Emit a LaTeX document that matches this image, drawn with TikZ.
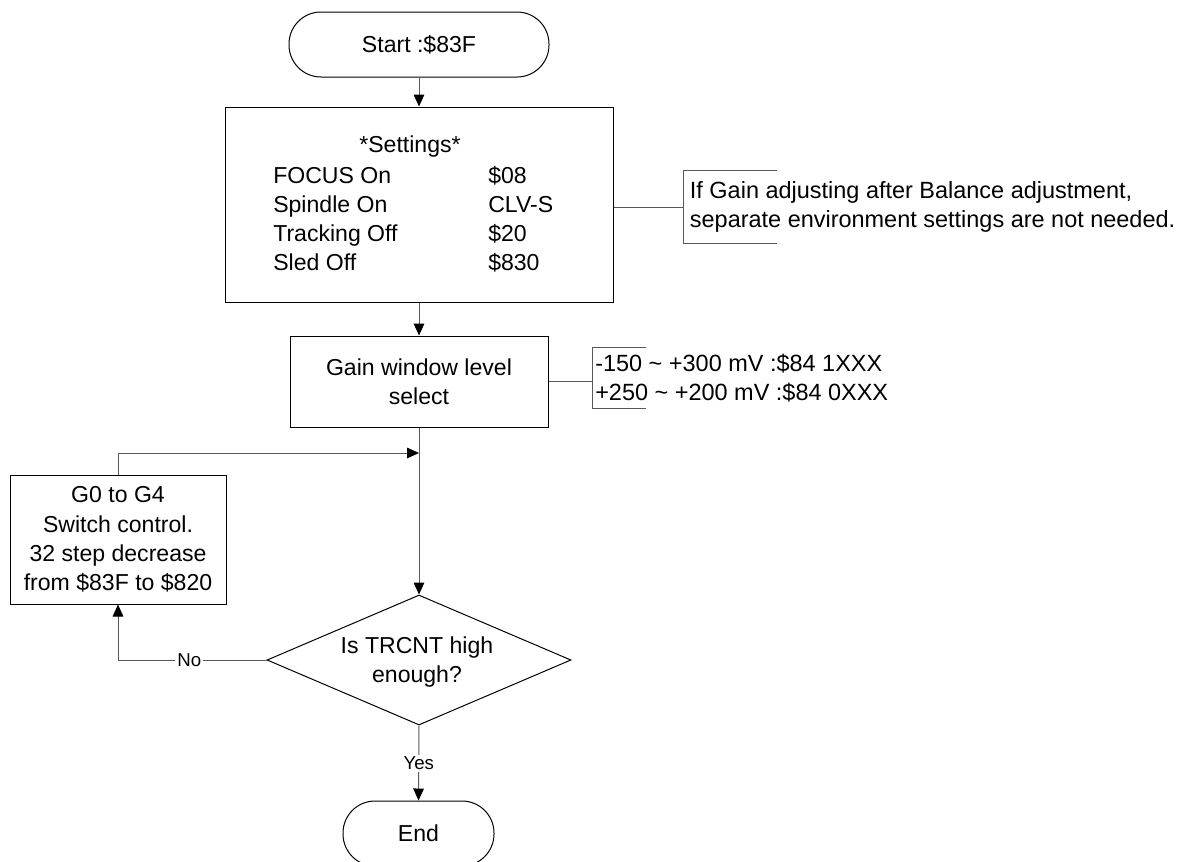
\documentclass[tikz,border=0pt]{standalone}
\usepackage{fontspec}
\setmainfont{Liberation Sans}
\usetikzlibrary{shapes.geometric,arrows.meta}
\begin{document}
\begin{tikzpicture}[x=0.75pt,y=-0.75pt,
  every node/.style={font=\fontsize{17.3pt}{21.9pt}\selectfont, inner sep=0pt},
  box/.style={draw=black, line width=0.75pt, fill=white},
  term/.style={box, rounded corners=24pt},
  conn/.style={draw=black!65, line width=0.75pt},
  arr/.style={conn, -{Triangle[length=9pt,width=8pt,color=black]}},
  lbl/.style={fill=white, inner sep=1.5pt, font=\fontsize{14pt}{17pt}\selectfont},
  note/.style={anchor=west, align=left, inner xsep=3pt, inner ysep=0pt, font=\fontsize{17.6pt}{22.2pt}\selectfont}]
\useasboundingbox (0,0) rectangle (1177,861);

% shapes
\node[term, minimum width=195pt, minimum height=48.75pt] (start) at (419,44.5) {Start :\$83F};
\node[box, minimum width=291pt, minimum height=146.25pt] (settings) at (419,204.5) {};
\node (hdr) at (410,147) {*Settings*};
\node[anchor=west] (tbl) at (273,221) {\begin{tabular}{@{}p{161.25pt}@{}l@{}}
FOCUS On & \$08\\
Spindle On & CLV-S\\
Tracking Off & \$20\\
Sled Off & \$830
\end{tabular}};
\node[box, minimum width=193.5pt, minimum height=68.25pt, align=center] (gain) at (419,381.5) {Gain window level\\select};
\node[box, minimum width=162pt, minimum height=96.75pt, align=center] (loop) at (118,539.5) {G0 to G4\\Switch control.\\32 step decrease\\from \$83F to \$820};
\node[box, diamond, minimum width=228pt, minimum height=97.5pt] (dec) at (419,660) {};
\node[align=center] (dect) at (417,662) {Is TRCNT high\\enough?};
\node[term, minimum width=113.25pt, minimum height=48.75pt] (end) at (418.5,833.5) {End};

% annotations
\node[note, inner xsep=5pt, minimum height=54pt] (ann1) at (683,207) {If Gain adjusting after Balance adjustment,\\separate environment settings are not needed.};
\draw[conn] ([xshift=70.5pt]ann1.north west) -- (ann1.north west) -- (ann1.south west) -- ([xshift=70.5pt]ann1.south west);
\draw[conn] (ann1.west -| settings.east) -- (ann1.west);

\node[note, inner xsep=2.25pt, minimum height=45pt] (ann2) at (592,378) {-150 \textasciitilde{} +300 mV :\$84 1XXX\\+250 \textasciitilde{} +200 mV :\$84 0XXX};
\draw[conn] ([xshift=40.5pt]ann2.north west) -- (ann2.north west) -- (ann2.south west) -- ([xshift=40.5pt]ann2.south west);
\draw[conn] (gain.east) -- (gain.east -| ann2.west);

% connectors
\coordinate (join) at (419,453);
\draw[arr] (start) -- (settings);
\draw[arr] (settings) -- (gain);
\draw[arr] (gain) -- (dec);
\draw[arr] (loop.north) |- (join);
\draw[arr] (dec.west) -| node[lbl, pos=0.26] {No} (loop.south);
\draw[arr] (dec.south) -- node[lbl] {Yes} (end.north);
\end{tikzpicture}
\end{document}
